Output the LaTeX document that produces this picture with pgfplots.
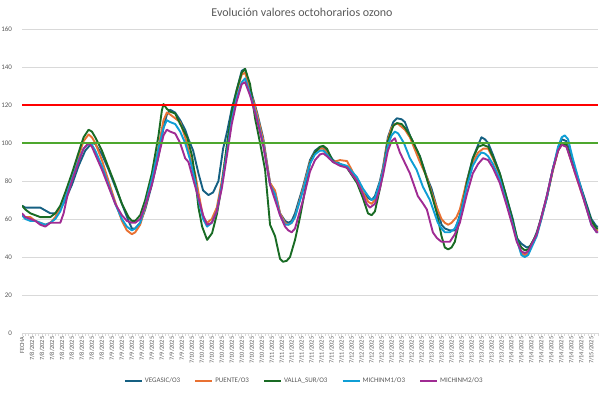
\documentclass[border=0pt]{standalone}
\usepackage{pgfplots}
\pgfplotsset{compat=1.18}
\usepackage{fontspec}
\setmainfont{Carlito}
\definecolor{cA}{HTML}{156082}
\definecolor{cB}{HTML}{E97132}
\definecolor{cC}{HTML}{196B24}
\definecolor{cD}{HTML}{0F9ED5}
\definecolor{cE}{HTML}{A02B93}
\definecolor{thrG}{HTML}{4EA72E}
\definecolor{txtgray}{HTML}{595959}
\definecolor{gridgray}{HTML}{D9D9D9}
\begin{document}
\begin{tikzpicture}
\begin{axis}[
  scale only axis, width=576pt, height=304pt, at={(0pt,0pt)}, anchor=south west,
  xmin=0, xmax=173, ymin=0, ymax=160,
  ytick={0,20,...,160},
  ymajorgrids, grid style={draw=gridgray, line width=0.7pt},
  axis lines*=left,
  y axis line style={draw=none},
  x axis line style={draw=gridgray, line width=0.7pt},
  ytick style={draw=none},
  xtick={0,3,...,171},
  xticklabels={FECHA,7/8/2025,7/8/2025,7/8/2025,7/8/2025,7/8/2025,7/8/2025,7/8/2025,7/8/2025,7/9/2025,7/9/2025,7/9/2025,7/9/2025,7/9/2025,7/9/2025,7/9/2025,7/9/2025,7/10/2025,7/10/2025,7/10/2025,7/10/2025,7/10/2025,7/10/2025,7/10/2025,7/10/2025,7/11/2025,7/11/2025,7/11/2025,7/11/2025,7/11/2025,7/11/2025,7/11/2025,7/11/2025,7/12/2025,7/12/2025,7/12/2025,7/12/2025,7/12/2025,7/12/2025,7/12/2025,7/12/2025,7/13/2025,7/13/2025,7/13/2025,7/13/2025,7/13/2025,7/13/2025,7/13/2025,7/13/2025,7/14/2025,7/14/2025,7/14/2025,7/14/2025,7/14/2025,7/14/2025,7/14/2025,7/14/2025,7/15/2025},
  minor xtick={0,1,...,173},
  tick align=outside,
  x tick style={draw=gridgray, line width=0.5pt},
  major tick length=2.5pt, minor tick length=2.5pt,
  xticklabel style={rotate=90, anchor=east, font=\fontsize{6.3}{7}\selectfont, text=txtgray, inner sep=1pt},
  yticklabel style={font=\fontsize{7}{8}\selectfont, text=txtgray, xshift=-4pt},
  /pgf/number format/assume math mode=true,
  legend columns=5,
  legend style={at={(0.49,-0.158)}, anchor=center, draw=none, fill=none,
    font=\fontsize{7}{8}\selectfont, text=txtgray,
    /tikz/every even column/.append style={column sep=12pt}},
  legend image code/.code={\draw[#1, line width=2pt] (0pt,0pt) -- (17pt,0pt);},
  every axis plot/.append style={line width=1.9pt, line join=round},
]
\addplot[cA] coordinates {(0,67) (1,66) (3,66) (5.5,66) (7,64.5) (8.5,63) (10,63) (11.5,65) (13,70) (15,78) (17,88) (19,96) (21,100) (22,99.5) (24,94) (26,86) (28,77) (30,68) (32,59) (33,55) (34,55) (35.5,58) (37,65) (39,78) (41,93) (42.5,108) (43.5,115) (44.5,117.5) (46,116) (47.5,112) (49,107) (50,102) (51.4,96) (53,84) (54.4,75) (56,72.6) (57.4,74) (59,80) (60.4,97) (61.6,106) (63,118) (64.5,128) (66,138) (67,139) (68.5,129) (70.6,116) (72.4,103) (74.5,79) (76,74) (77.5,63) (79,59) (80,58) (81,59) (82,63) (84.4,77) (86.5,91) (88,96) (89.5,98) (90.5,98) (91.6,96) (93.4,91) (95.5,89) (97.6,87) (100.6,80) (102.4,74) (104,71) (105,70) (106,72) (107.5,80) (108.4,87) (109.9,103) (111.5,111) (112.6,113) (114,112.5) (115,111) (116.5,104) (119.5,93) (121.6,82) (123,76) (124.6,66) (126,57) (127,55) (128.5,54) (130,54) (131.5,62) (133.6,80) (135.4,92) (137,99) (138,103) (139,102) (140,100) (141.4,94) (143.5,84) (145.6,71) (147.4,60) (148.6,50) (150,47) (151.6,45) (153,46) (154.6,53) (156,61) (157.6,72) (159.4,86) (161,97) (162.1,102) (163.5,101) (165.4,90) (168.4,74) (171,60) (172.6,56) (173,56)};
\addlegendentry{VEGASIC/O3}
\addplot[cB] coordinates {(0,62) (1,61) (2.5,61) (4,59) (5.5,58) (7,57) (8.5,58) (10,61) (11.5,66) (13,73) (15,83) (17,93) (18.5,101) (20,104.5) (21,103) (22,100) (24,91) (26,80) (28,69) (30,59) (31.5,54) (33,52) (34,53) (35.5,57) (37,66) (39,80) (41,98) (42.5,112) (43.5,116) (44.5,115) (46,113) (47.5,111) (49,103) (50.5,93) (52,84) (53,74) (54.4,61) (55.6,58) (57,60) (58.5,66) (60,80) (61.6,98) (63,114) (64.5,127) (66,136) (67,137) (68.5,128) (70.6,115) (72.4,102) (74.5,79) (76,75) (77.5,63) (79,58) (80,57) (81,58) (82,61) (84.4,76) (86.5,90) (88,95) (89.5,97) (90.5,97) (91.6,95) (93.4,90) (95.5,91) (97.6,90.5) (99,86) (100.6,80) (102.4,74) (104,69) (105,68) (106,70) (107.5,79) (108.4,86) (109.9,102) (111,108) (112,110) (113,110) (115,107) (116.5,103) (119.5,90) (121.6,82) (123,74) (124.6,66) (126,60) (127,58) (128,57) (129,58) (130.5,61) (131.5,65) (133.6,80) (135.4,90) (137,95) (138.5,97) (140,97) (141.4,92) (143.5,83) (145.6,70) (147.4,58) (148.6,49) (150,42) (151,41) (152,42) (154.6,52) (156,60) (157.6,71) (159.4,85) (161,96) (162.1,99) (163.5,99) (165.4,88) (168.4,72) (171,58) (172.6,54) (173,54)};
\addlegendentry{PUENTE/O3}
\addplot[cC] coordinates {(0,67) (1,65) (2.5,63) (4,62) (5.5,61) (7,61) (8.5,61) (10,63) (11.5,67) (13,74) (15,84) (17,95) (18.5,103) (20,107) (21,106) (22,103) (24,96) (26,87) (28,78) (30,68) (32,61) (33,59) (34,59) (35.5,62) (37,70) (39,84) (41,104) (42,117) (42.5,120.5) (43.5,118) (44.5,116.5) (46,115.5) (47.5,110) (49.6,103) (51.1,93) (52,82) (53,66) (54.1,56) (55.6,49) (57.1,52.6) (58.6,63) (60.1,79) (61.6,100) (63,116) (64.5,128) (66,137) (67,139) (68.5,131) (70,113) (71.5,100) (73,86) (74.5,57) (76,51) (77.5,39) (78.4,37.5) (79.5,38) (80.5,40) (82,49) (83.5,61) (85,75) (86.5,89.5) (88,95) (89.5,98) (90.5,98.5) (91.6,97) (93.4,90) (95.5,89) (97.6,87) (100.6,79) (102.4,71) (103.9,63) (105,62) (106,64) (107.5,76) (108.4,84) (109.9,101) (111.5,109) (112.6,110.5) (114,110) (115,108) (116.5,104) (119.5,93) (121.6,81) (123,73) (124.6,63) (126,51) (127,45) (128,44) (129,45) (130,48) (131.5,60) (133.6,79) (135.4,92) (137,98) (138.5,99) (140,98) (141.4,93) (143.5,84) (145.6,71) (147.4,59) (149,48) (150,45) (151,43.5) (152,44) (154.6,52) (156,61) (157.6,71) (159.4,86) (161,96) (162.1,100) (163.5,99) (165.4,89) (168.4,73) (171,59) (172.6,55) (173,55)};
\addlegendentry{VALLA\_SUR/O3}
\addplot[cD] coordinates {(0,62) (1,60) (2.5,59) (4,59) (5.5,58) (7,57) (8.5,58) (10,60) (11.5,64) (13,71) (15,81) (17,91) (18.5,97) (20,100) (21,99) (22,96) (24,88) (26,78) (28,68) (30,60) (31.5,56) (33,54) (34,55) (35.5,58) (37,67) (39,81) (41,97) (42.5,108) (43.5,112) (44.5,111) (46,110) (47.5,106) (49,100) (50.5,91) (52,80) (53,70) (54.4,60) (55.6,56) (57,58) (58.5,64) (60,78) (61.6,96) (63,112) (64.5,124) (66,132) (67,134) (68.5,126) (70.6,113) (72.4,100) (74.5,78) (76,73) (77.5,62) (79,57) (80,57) (81,58) (82,61) (84.4,75) (86.5,89) (88,94) (89.5,96) (90.5,96) (91.6,94) (93.4,90) (95.5,89) (97.6,88) (100.6,82) (102.4,76) (104,72) (105,70) (106,71) (107.5,79) (108.4,85) (109.9,99) (111,104) (112,106) (113,105) (114.7,100) (116.5,92) (118.5,86) (120.4,77) (122.5,70) (124.9,58) (126,55) (127,53) (128.5,53) (130,55) (131.5,61) (133.6,77) (135.4,88) (137,93) (138,95) (139,94.5) (140,93) (141.4,89) (143.5,81) (145.6,68) (147.4,57) (148.6,49) (150,41) (151,40) (152,41) (154.6,51) (156,60) (157.6,71) (159.4,86) (161,98) (162.1,103) (163,104) (164,102) (165.4,92) (168.4,73) (171,57) (172.6,53) (173,53)};
\addlegendentry{MICHINM1/O3}
\addplot[cE] coordinates {(0,63) (1,61) (2.5,60) (4,59) (5.5,57) (7,56) (8.5,58) (10,58) (11.5,58) (12.5,63) (13.6,72) (15,80) (17,90) (18.5,97) (20,100) (21,98) (22,94) (24,86) (26,77) (28,68) (30,62) (31.5,59) (33,58) (34,58) (35.5,60) (37,67) (39,78) (41,93) (42.5,104) (43.5,107) (44.5,106) (46,105) (47.5,100) (49,92) (50,90) (51.4,81) (53,71) (54.4,62) (55.6,57) (57,58) (58.5,64) (60,76) (61.6,94) (63,110) (64.5,122) (66,131) (67,132) (68.5,125) (70.6,112) (72.4,99) (74.5,78) (76,70) (77.5,62) (79,56) (80,54) (81,53) (82,55) (84.4,70) (86.5,85) (88,91) (89.5,94) (90.5,94.5) (91.6,93) (93.4,90) (95.5,88) (97.6,87) (100.6,80) (102.4,73) (103.5,68) (104.5,66) (106,68) (107.5,76) (108.4,83) (109.9,96) (111,101) (112,102.5) (113.5,95) (116.5,84) (118.9,72) (120.5,68) (121.6,65) (123.4,53) (124.6,50) (126,48) (127,48) (128.5,48) (130,52) (131.5,58) (133.6,73) (135.4,84) (137,89) (138.5,92) (140,91) (141.4,87) (143.5,79) (145.6,67) (147.4,56) (148.6,48) (150,43) (151,42) (152,43) (154.6,52) (156,61) (157.6,72) (159.4,86) (161,96) (162.1,99) (163.5,98) (165.4,88) (168.4,72) (171,57) (172.6,53) (173,53)};
\addlegendentry{MICHINM2/O3}
\addplot[red, line width=2.1pt, forget plot] coordinates {(0,120) (173,120)};
\addplot[thrG, line width=2.1pt, forget plot] coordinates {(0,100) (173,100)};
\end{axis}
\node[font=\fontsize{12}{14}\selectfont, text=txtgray] at (280pt,321pt) {Evolución valores octohorarios ozono};
\pgfresetboundingbox
\useasboundingbox (-22pt,-63pt) rectangle (583pt,333pt);
\end{tikzpicture}
\end{document}
